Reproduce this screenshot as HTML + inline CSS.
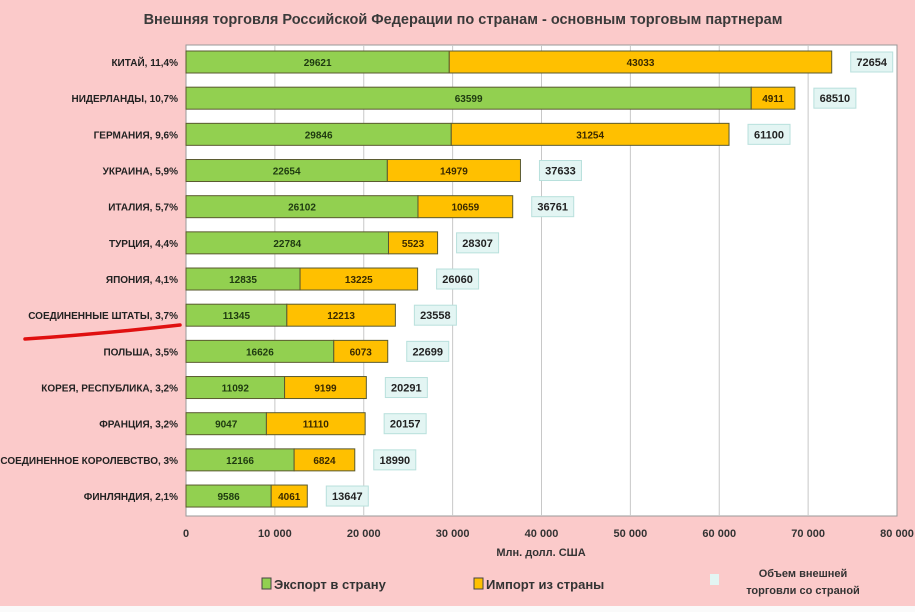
<!DOCTYPE html>
<html><head><meta charset="utf-8"><style>
body{margin:0;background:#fbcaca;}
svg{display:block;font-family:"Liberation Sans",sans-serif;}
</style></head><body>
<svg id="c" width="915" height="612" viewBox="0 0 915 612">
<rect x="0" y="0" width="915" height="606" fill="#fbcaca"/>
<rect x="0" y="606" width="915" height="6" fill="#fafafa"/>
<text x="463" y="24" text-anchor="middle" font-size="14.5" font-weight="bold" fill="#3a3a3a">Внешняя торговля Российской Федерации по странам - основным торговым партнерам</text>
<rect x="186" y="45" width="711" height="471" fill="#fff" stroke="#999"/>
<g id="grid"></g><g id="bars"></g><g id="ticks"></g>
<text x="541" y="556" text-anchor="middle" font-size="11" font-weight="bold" fill="#333">Млн. долл. США</text>
<g>
<rect x="262" y="578" width="9" height="11" fill="#92d050" stroke="#444"/>
<text x="274" y="589" font-size="13" font-weight="bold" fill="#333">Экспорт в страну</text>
<rect x="474" y="578" width="9" height="11" fill="#ffc000" stroke="#444"/>
<text x="486" y="589" font-size="13" font-weight="bold" fill="#333">Импорт из страны</text>
<rect x="710" y="574" width="9" height="11" fill="#e3f5f3"/>
<text x="803" y="577" text-anchor="middle" font-size="11" font-weight="bold" fill="#333">Объем внешней</text>
<text x="803" y="594" text-anchor="middle" font-size="11" font-weight="bold" fill="#333">торговли со страной</text>
</g>
<path d="M25 339 Q100 334 180 325" stroke="#e01010" stroke-width="3.5" fill="none" stroke-linecap="round"/>
</svg>
<script>
const countries=["КИТАЙ, 11,4%","НИДЕРЛАНДЫ, 10,7%","ГЕРМАНИЯ, 9,6%","УКРАИНА, 5,9%","ИТАЛИЯ, 5,7%","ТУРЦИЯ, 4,4%","ЯПОНИЯ, 4,1%","СОЕДИНЕННЫЕ ШТАТЫ, 3,7%","ПОЛЬША, 3,5%","КОРЕЯ, РЕСПУБЛИКА, 3,2%","ФРАНЦИЯ, 3,2%","СОЕДИНЕННОЕ КОРОЛЕВСТВО, 3%","ФИНЛЯНДИЯ, 2,1%"];
const exportVals=[29621,63599,29846,22654,26102,22784,12835,11345,16626,11092,9047,12166,9586];
const importVals=[43033,4911,31254,14979,10659,5523,13225,12213,6073,9199,11110,6824,4061];
const totalVals=[72654,68510,61100,37633,36761,28307,26060,23558,22699,20291,20157,18990,13647];
const tickVals=[0,10000,20000,30000,40000,50000,60000,70000,80000];
const tickLabels=["0","10 000","20 000","30 000","40 000","50 000","60 000","70 000","80 000"];
const NS="http://www.w3.org/2000/svg";
const x=v=>186+v*711/80000;
const y=i=>62+i*36.17;
function mk(tag,attrs,parent,text){const e=document.createElementNS(NS,tag);for(const k in attrs)e.setAttribute(k,attrs[k]);if(text!==undefined)e.textContent=text;parent.appendChild(e);return e;}
const grid=document.getElementById('grid'),bars=document.getElementById('bars'),ticks=document.getElementById('ticks');
tickVals.forEach((t,i)=>{
 if(i>0&&i<tickVals.length-1){const l=mk('line',{x1:x(t),x2:x(t),y1:45,y2:516,stroke:'#c8c8c8'},grid);
 
 }
 const tx=mk('text',{x:x(t),y:537,'text-anchor':'middle','font-size':11,'font-weight':'bold',fill:'#333'},ticks,tickLabels[i]);
 
 
});
countries.forEach((c,i)=>{
 const cy=y(i),h=22,top=cy-h/2;
 const lb=mk('text',{x:178,y:cy+4,'text-anchor':'end','font-size':10,'font-weight':'bold',fill:'#222'},bars,c);
 
 
 const e=mk('rect',{x:x(0),y:top,width:x(exportVals[i])-x(0),height:h,fill:'#92d050',stroke:'#5a5a30'},bars);
 
 
 const et=mk('text',{x:(x(0)+x(exportVals[i]))/2,y:cy+4,'text-anchor':'middle','font-size':10,'font-weight':'bold',fill:'#1e3a10'},bars,exportVals[i]);
 
 
 const s=exportVals[i],en=s+importVals[i];
 const m=mk('rect',{x:x(s),y:top,width:x(en)-x(s),height:h,fill:'#ffc000',stroke:'#5a5a30'},bars);
 
 
 const mt=mk('text',{x:(x(s)+x(en))/2,y:cy+4,'text-anchor':'middle','font-size':10,'font-weight':'bold',fill:'#3a2a00'},bars,importVals[i]);
 
 
 const bx=x(totalVals[i])+19;
 const b=mk('rect',{x:bx,y:cy-10,width:42,height:20,fill:'#e3f5f3',stroke:'#b8e0dc'},bars);
 
 
 const bt=mk('text',{x:bx+21,y:cy+4,'text-anchor':'middle','font-size':11,'font-weight':'bold',fill:'#222'},bars,totalVals[i]);
 
 
});
</script>
</body></html>
